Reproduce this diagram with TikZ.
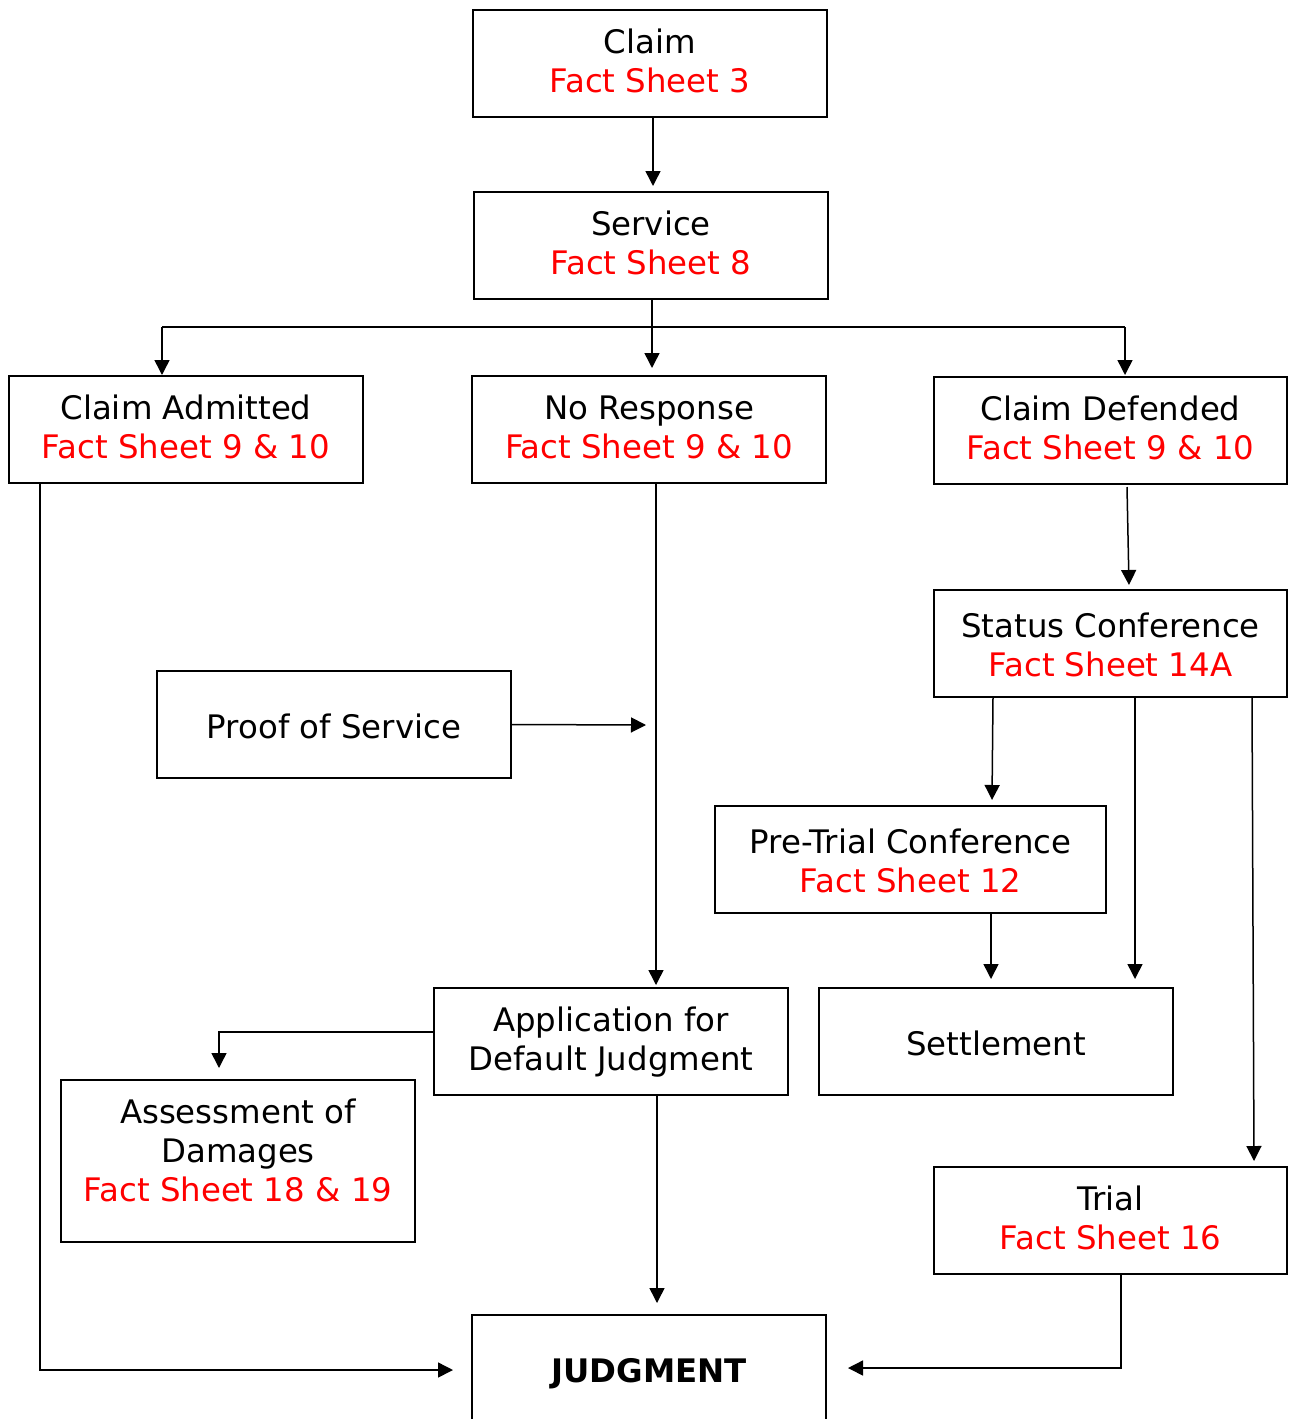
\documentclass[tikz,border=0pt]{standalone}
\usepackage{fontspec}
\setmainfont{DejaVu Sans}
\usetikzlibrary{arrows.meta}
\definecolor{fsred}{RGB}{255,0,0}
\begin{document}
\begin{tikzpicture}[x=1pt,y=-1pt,
  box/.style={draw=black,line width=2pt,minimum width=354pt,minimum height=107pt,inner sep=0pt},
  txt/.style={inner sep=0pt,align=center,font=\fontsize{32.4}{39}\selectfont},
  conn/.style={line width=1.5pt,-{Triangle[width=15pt,length=15pt]}},
  plain/.style={line width=1.5pt}]
\useasboundingbox (0,0) rectangle (1288,1419);
\newcommand{\fs}[1]{\textcolor{fsred}{#1}}
% boxes
\node[box] (claim) at (650,63.5) {};
\node[box] (service) at (651,245.5) {};
\node[box] (admit) at (186,429.5) {};
\node[box] (noresp) at (649,429.5) {};
\node[box,minimum width=353pt] (defend) at (1110.5,430.5) {};
\node[box,minimum width=353pt] (status) at (1110.5,643.5) {};
\node[box] (proof) at (334,724.5) {};
\node[box,minimum width=391pt] (pretrial) at (910.5,859.5) {};
\node[box] (app) at (611,1041.5) {};
\node[box] (settle) at (996,1041.5) {};
\node[box,minimum height=162pt] (assess) at (238,1161) {};
\node[box,minimum width=353pt] (trial) at (1110.5,1220.5) {};
\node[box,minimum height=110pt] (judg) at (649,1370) {};
% texts
\node[txt] at ([yshift=3pt]claim.center) {Claim\\\fs{Fact Sheet 3}};
\node[txt] at ([yshift=3pt]service.center) {Service\\\fs{Fact Sheet 8}};
\node[txt] at ([yshift=2.5pt]admit.center) {Claim Admitted\\\fs{Fact Sheet 9 \& 10}};
\node[txt] at ([yshift=2.5pt]noresp.center) {No Response\\\fs{Fact Sheet 9 \& 10}};
\node[txt] at ([yshift=3pt]defend.center) {Claim Defended\\\fs{Fact Sheet 9 \& 10}};
\node[txt] at ([yshift=-1pt]status.center) {Status Conference\\\fs{Fact Sheet 14A}};
\node[txt] at ([yshift=-1.5pt]proof.center) {Proof of Service};
\node[txt] at ([yshift=-1.5pt]pretrial.center) {Pre-Trial Conference\\\fs{Fact Sheet 12}};
\node[txt] at ([yshift=-0.5pt]app.center) {Application for\\Default Judgment};
\node[txt] at ([yshift=-1.5pt]settle.center) {Settlement};
\node[txt] at ([yshift=11pt]assess.center) {Assessment of\\Damages\\\fs{Fact Sheet 18 \& 19}};
\node[txt] at ([yshift=3pt]trial.center) {Trial\\\fs{Fact Sheet 16}};
\node[txt,font=\fontsize{32.4}{39}\selectfont\bfseries] at ([yshift=-4pt]judg.center) {JUDGMENT};
% coordinates for arrow ends
\coordinate (jl) at (453,1370);
\coordinate (jr) at (848,1368);
\coordinate (ptip) at (646,725);
% connectors
\draw[conn] (claim.south -| 653,0) -- (653,186);
\draw[plain] (service.south -| 652,0) -- (652,327);
\draw[plain] (162,327) -- (1125,327);
\draw[conn] (162,327) -- (162,375);
\draw[conn] (652,327) -- (652,368);
\draw[conn] (1125,327) -- (1125,375);
\draw[conn] (admit.south -| 40,0) -- (40,1370) -- (jl);
\draw[conn] (noresp.south -| 656,0) -- (656,985);
\draw[conn] (proof.east) -- (ptip);
\draw[conn] (1127,487) -- (1129,585);
\draw[conn] (status.south -| 993,0) -- (992,800);
\draw[conn] (status.south -| 1135,0) -- (1135,979);
\draw[conn] (status.south -| 1252,0) -- (1254,1161);
\draw[conn] (pretrial.south -| 991,0) -- (991,979);
\draw[conn] (app.west |- 0,1032) -- (219,1032) -- (219,1068);
\draw[conn] (app.south -| 657,0) -- (657,1303);
\draw[conn] (trial.south -| 1121,0) -- (1121,1368) -- (jr);
\end{tikzpicture}
\end{document}
